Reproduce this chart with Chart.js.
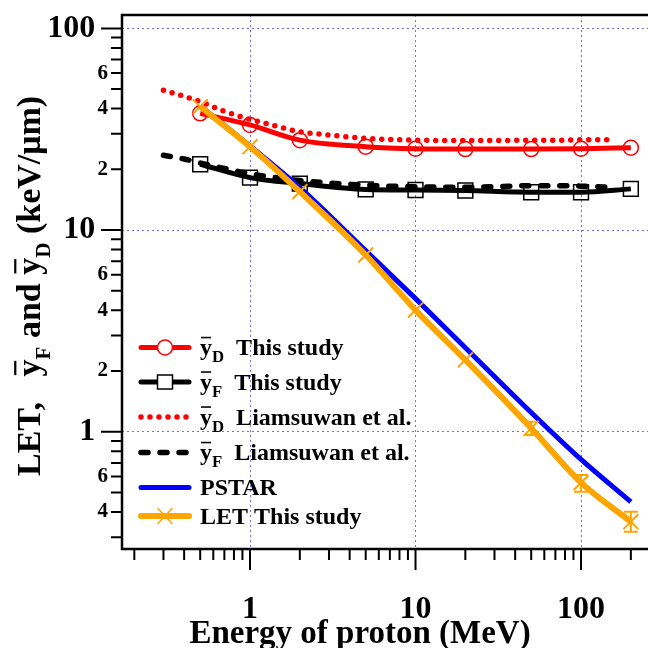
<!DOCTYPE html>
<html lang="en">
<head>
<meta charset="UTF-8">
<title>LET and lineal energy vs proton energy</title>
<script src="https://cdn.jsdelivr.net/npm/chart.js"></script>
<style>
  html, body { margin: 0; padding: 0; background: #fff; overflow: hidden; }
  #wrap { width: 648px; height: 648px; overflow: hidden; position: relative; }
  canvas { display: block; }
</style>
</head>
<body>
<div id="wrap"><canvas id="chart" width="680" height="648"></canvas></div>
<script>
// proton energies (MeV) of this study
const energy = [0.5, 1, 2, 5, 10, 20, 50, 100, 200];
// dose-mean lineal energy, this study (keV/um)
const yDThis = [37.9, 33.2, 27.9, 25.9, 25.3, 25.2, 25.2, 25.3, 25.6];
// frequency-mean lineal energy, this study
const yFThis = [21.2, 18.2, 17.0, 15.9, 15.8, 15.7, 15.4, 15.4, 16.0];
// LET, this study, with error range
const letThis = [40.9, 25.9, 15.5, 7.52, 4.01, 2.27, 1.04, 0.559, 0.358];
const letLow  = [40.9, 25.9, 15.5, 7.52, 4.01, 2.27, 0.963, 0.504, 0.319];
const letHigh = [40.9, 25.9, 15.5, 7.52, 4.01, 2.27, 1.12, 0.610, 0.401];
// PSTAR stopping power
const pstar = [41.3, 26.1, 16.24, 7.91, 4.57, 2.61, 1.245, 0.729, 0.449];
// Liamsuwan et al.
const liamE  = [0.3, 0.4, 0.5, 0.7, 1, 1.5, 2, 3, 5, 7, 10, 20, 30, 50, 70, 100, 160];
const liamYD = [49.4, 46.0, 43.3, 38.8, 35.4, 32.5, 30.7, 29.6, 28.5, 28.1, 27.9, 27.8, 27.8, 27.9, 27.9, 28.0, 28.0];
const liamYF = [23.5, 22.5, 21.5, 20.2, 19.0, 18.1, 17.6, 17.1, 16.7, 16.5, 16.4, 16.3, 16.4, 16.6, 16.6, 16.5, 16.3];

const xTickLabels = ['1', '10', '100'];
const yMajorLabels = ['1', '10', '100'];
const yMinorLabels = ['2', '4', '6'];

const FONT = "'Liberation Serif', 'Times New Roman', serif";
const RED = '#ff0000', BLACK = '#000000', BLUE = '#0000ff', ORANGE = '#ffa500';

const pts = (xs, ys) => xs.map((x, i) => ({ x, y: ys[i] }));

const mant = (v) => {
    const e = Math.floor(Math.log10(v) + 1e-9);
    const m = v / Math.pow(10, e);
    const r = Math.round(m);
    return Math.abs(m - r) < 1e-6 ? r : 0;
};
const fmt = (v) => String(Math.round(v * 1000) / 1000);
const isDecade = (v) => mant(v) === 1;

const yLabel = (v) => {
    const m = String(mant(v));
    if (yMajorLabels.includes(fmt(v))) return fmt(v) + '\u2009\u2009';
    return yMinorLabels.includes(m) ? m : '';
};

// overline + subscript text, drawn left to right from (x, y) baseline
function drawRich(ctx, parts, x, y, size, subScale, subShift) {
    let cx = x;
    for (const [t, k] of parts) {
        const fs = k === 's' ? size * subScale : size;
        ctx.font = `bold ${fs}px ${FONT}`;
        const dy = k === 's' ? size * subShift : 0;
        ctx.fillText(t, cx, y + dy);
        const w = ctx.measureText(t).width;
        if (k === 'o') {
            ctx.fillRect(cx + w * 0.08, y - size * 0.76, w * 0.84, Math.max(1.5, size * 0.065));
        }
        cx += w;
    }
    return cx - x;
}

const legendRows = [
    { parts: [['y', 'o'], ['D', 's'], ['  This study', '']], color: RED, width: 5, marker: 'circle' },
    { parts: [['y', 'o'], ['F', 's'], ['  This study', '']], color: BLACK, width: 5, marker: 'square' },
    { parts: [['y', 'o'], ['D', 's'], ['  Liamsuwan et al.', '']], color: RED, width: 5.5, dash: [0, 9] },
    { parts: [['y', 'o'], ['F', 's'], ['  Liamsuwan et al.', '']], color: BLACK, width: 5.5, dash: [7, 12] },
    { parts: [['PSTAR', '']], color: BLUE, width: 5 },
    { parts: [['LET This study', '']], color: ORANGE, width: 6, marker: 'cross' }
];
const legendLineY = [347.5, 382, 417, 452.5, 487.5, 516];

const decor = {
    id: 'decor',
    afterDatasetsDraw(chart) {
        const { ctx, scales: { x, y } } = chart;
        ctx.save();
        ctx.strokeStyle = ORANGE;
        ctx.lineWidth = 2;
        energy.forEach((e, i) => {
            if (letHigh[i] - letLow[i] < 1e-9) return;
            const px = x.getPixelForValue(e);
            const top = y.getPixelForValue(letHigh[i]);
            const bot = y.getPixelForValue(letLow[i]);
            ctx.beginPath();
            ctx.moveTo(px, top); ctx.lineTo(px, bot);
            ctx.moveTo(px - 7, top); ctx.lineTo(px + 7, top);
            ctx.moveTo(px - 7, bot); ctx.lineTo(px + 7, bot);
            ctx.stroke();
        });
        ctx.restore();
    },
    afterDraw(chart) {
        const { ctx, chartArea: a, scales: { x, y } } = chart;
        ctx.save();
        ctx.strokeStyle = '#000';
        ctx.lineWidth = 2.5;
        ctx.strokeRect(a.left, a.top, a.right - a.left, a.bottom - a.top);

        // tick marks
        ctx.lineWidth = 2;
        ctx.beginPath();
        for (let e = -1; e <= 2; e++) {
            for (let k = 1; k <= 9; k++) {
                const v = k * Math.pow(10, e);
                const len = k === 1 ? 21 : 11;
                if (v >= x.min && v <= x.max) {
                    const px = x.getPixelForValue(v);
                    ctx.moveTo(px, a.bottom); ctx.lineTo(px, a.bottom + len);
                }
                if (v >= y.min && v <= y.max) {
                    const py = y.getPixelForValue(v);
                    ctx.moveTo(a.left - len, py); ctx.lineTo(a.left, py);
                }
            }
        }
        ctx.stroke();

        // axis titles
        ctx.fillStyle = '#000';
        ctx.textBaseline = 'alphabetic';
        ctx.textAlign = 'center';
        ctx.font = `bold 33px ${FONT}`;
        ctx.fillText('Energy of proton (MeV)', 360, 643);

        ctx.textAlign = 'left';
        ctx.save();
        ctx.translate(40, 476);
        ctx.rotate(-Math.PI / 2);
        drawRich(ctx, [['LET,   ', ''], ['y', 'o'], ['F', 's'], [' and ', ''], ['y', 'o'], ['D', 's'], [' (keV/\u03bcm)', '']], 0, 0, 34, 0.62, 0.3);
        ctx.restore();

        // legend
        legendRows.forEach((r, i) => {
            const ly = legendLineY[i];
            ctx.save();
            ctx.strokeStyle = r.color;
            ctx.lineWidth = r.width;
            ctx.lineCap = 'round';
            ctx.setLineDash(r.dash || []);
            ctx.beginPath();
            ctx.moveTo(141, ly); ctx.lineTo(189, ly);
            ctx.stroke();
            ctx.setLineDash([]);
            ctx.lineWidth = 1.5;
            if (r.marker === 'circle') {
                ctx.fillStyle = '#fff';
                ctx.beginPath(); ctx.arc(165, ly, 7.5, 0, Math.PI * 2); ctx.fill(); ctx.stroke();
            } else if (r.marker === 'square') {
                ctx.fillStyle = '#fff';
                ctx.fillRect(157.5, ly - 7, 15, 14); ctx.strokeRect(157.5, ly - 7, 15, 14);
            } else if (r.marker === 'cross') {
                ctx.beginPath();
                ctx.moveTo(158, ly - 7.5); ctx.lineTo(172, ly + 7.5);
                ctx.moveTo(172, ly - 7.5); ctx.lineTo(158, ly + 7.5);
                ctx.stroke();
            }
            ctx.restore();
            ctx.fillStyle = '#000';
            drawRich(ctx, r.parts, 200, ly + 7.5, 24, 0.7, 0.3);
        });
        ctx.restore();
    }
};

const gridColor = (c) => (c.tick && isDecade(c.tick.value) ? 'rgba(95,95,255,0.9)' : 'rgba(0,0,0,0)');

new Chart(document.getElementById('chart').getContext('2d'), {
    type: 'line',
    data: {
        datasets: [
            { label: 'LET This study', data: pts(energy, letThis), borderColor: ORANGE, backgroundColor: 'rgba(0,0,0,0)',
              borderWidth: 6, pointStyle: 'crossRot', pointRadius: 10.5, pointBorderWidth: 2, pointBorderColor: ORANGE,
              cubicInterpolationMode: 'monotone', order: 0 },
            { label: 'PSTAR', data: pts(energy, pstar), borderColor: BLUE, borderWidth: 5, pointRadius: 0,
              cubicInterpolationMode: 'monotone', order: 1 },
            { label: 'yD This study', data: pts(energy, yDThis), borderColor: RED, backgroundColor: 'rgba(0,0,0,0)',
              borderWidth: 5, pointStyle: 'circle', pointRadius: 7.5, pointBorderWidth: 1.5, pointBorderColor: RED,
              cubicInterpolationMode: 'monotone', order: 2 },
            { label: 'yF This study', data: pts(energy, yFThis), borderColor: BLACK, backgroundColor: 'rgba(0,0,0,0)',
              borderWidth: 5, pointStyle: 'rect', pointRadius: 10.5, pointBorderWidth: 1.5, pointBorderColor: BLACK,
              cubicInterpolationMode: 'monotone', order: 3 },
            { label: 'yD Liamsuwan et al.', data: pts(liamE, liamYD), borderColor: RED, borderWidth: 5.5,
              borderDash: [0, 9], borderCapStyle: 'round', pointRadius: 0, cubicInterpolationMode: 'monotone', order: 4 },
            { label: 'yF Liamsuwan et al.', data: pts(liamE, liamYF), borderColor: BLACK, borderWidth: 5.5,
              borderDash: [7, 12], borderCapStyle: 'round', pointRadius: 0, cubicInterpolationMode: 'monotone', order: 5 }
        ]
    },
    options: {
        responsive: false,
        animation: false,
        devicePixelRatio: 1,
        layout: { padding: { top: 15, right: 20, left: 0, bottom: 0 } },
        plugins: { legend: { display: false }, tooltip: { enabled: false } },
        scales: {
            x: {
                type: 'logarithmic',
                min: 0.1685,
                max: 300,
                afterFit: (s) => { s.height = 99; },
                border: { display: false, dash: [2, 3] },
                grid: { color: gridColor, lineWidth: 1, drawTicks: false },
                ticks: {
                    autoSkip: false,
                    maxRotation: 0,
                    padding: 0,
                    color: '#000',
                    // tall line box pushes the labels down without adding side padding
                    font: { family: FONT, size: 32, weight: 'bold', lineHeight: 3.78 },
                    callback: (v) => (xTickLabels.includes(fmt(v)) ? fmt(v) : '')
                }
            },
            y: {
                type: 'logarithmic',
                min: 0.262,
                max: 116.5,
                afterFit: (s) => { s.width = 122; },
                border: { display: false, dash: [2, 3] },
                grid: { color: gridColor, lineWidth: 1, drawTicks: false },
                ticks: {
                    autoSkip: false,
                    padding: 14,
                    color: '#000',
                    font: (c) => {
                        const v = c.tick ? c.tick.value : 1;
                        const size = yLabel(v) === '' ? 1 : (isDecade(v) ? 32 : 21);
                        return { family: FONT, weight: 'bold', size };
                    },
                    callback: yLabel
                }
            }
        }
    },
    plugins: [decor]
});
</script>
</body>
</html>
